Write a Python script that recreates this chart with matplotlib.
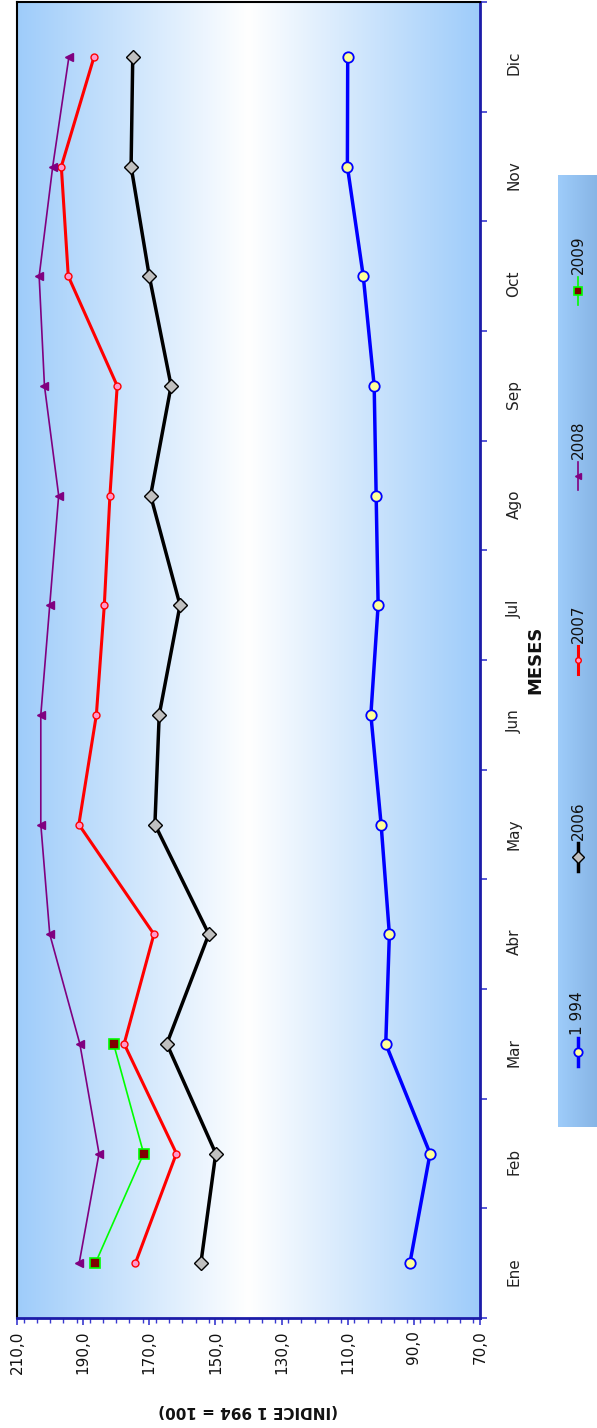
import numpy as np
import matplotlib
matplotlib.use("Agg")
import matplotlib.pyplot as plt
from matplotlib.lines import Line2D
from matplotlib.ticker import MultipleLocator, FixedLocator, FuncFormatter

plt.rcParams['font.family'] = ['DejaVu Sans']

# ---------------- data ----------------
months = ["Ene", "Feb", "Mar", "Abr", "May", "Jun", "Jul", "Ago", "Sep", "Oct", "Nov", "Dic"]
s1994 = [91.2, 85.1, 98.5, 97.4, 99.9, 103.0, 100.8, 101.4, 102.0, 105.3, 110.1, 110.0]
s2006 = [154.4, 149.9, 164.7, 152.0, 168.3, 167.0, 160.7, 169.6, 163.4, 170.0, 175.5, 175.0]
s2007 = [174.2, 161.8, 177.6, 168.6, 191.3, 186.0, 183.6, 181.9, 179.7, 194.5, 196.6, 186.7]
s2008 = [191.2, 185.2, 191.0, 200.1, 202.8, 202.8, 200.1, 197.4, 201.7, 203.3, 199.2, 194.3]
s2009 = [186.3, 171.7, 180.8]
series_names = ["1 994", "2006", "2007", "2008", "2009"]
value_ticks = [210, 190, 170, 150, 130, 110, 90, 70]

W, H = 597, 1428
fig = plt.figure(figsize=(W / 100, H / 100), dpi=100)
fig.patch.set_facecolor("white")

def fx(px):
    return px / W

def fy(py):
    return 1 - py / H

L, R, T, B = 17, 480, 2, 1318
ax = fig.add_axes([fx(L), fy(B), fx(R) - fx(L), fy(T) - fy(B)])

# gradient background
edge = np.array([0.62, 0.80, 0.98])
t = np.linspace(0, 1, 512)
d = np.abs(t - 0.5) * 2
grad = (1 - d)[:, None] * np.array([1, 1, 1]) + d[:, None] * edge
ax.imshow(grad[None, :, :], extent=[210, 70, -0.5, 11.5], aspect='auto', zorder=0,
          interpolation='bilinear')

styles = [
    dict(color='#0000FF', lw=2.5, marker='o', ms=7.5, mfc='#FFFF99', mec='#0000FF', mew=1.3),
    dict(color='#000000', lw=2.5, marker='D', ms=7.5, mfc='#C0C0C0', mec='#000000', mew=1.0),
    dict(color='#FF0000', lw=2.2, marker='o', ms=5, mfc='#FF99CC', mec='#FF0000', mew=1.0),
    dict(color='#800080', lw=1.2, marker='<', ms=6, mfc='#800080', mec='#800080', mew=1.0),
    dict(color='#00FF00', lw=1.2, marker='s', ms=6.5, mfc='#800000', mec='#00FF00', mew=1.2),
]
all_series = [s1994, s2006, s2007, s2008, s2009]

y = np.arange(len(months))
for vals, st in zip(all_series, styles):
    ax.plot(vals, y[:len(vals)], zorder=3, **st)

ax.set_xlim(210, 70)
ax.set_ylim(-0.5, 11.5)

# value axis (bottom)
ax.xaxis.set_major_locator(FixedLocator(value_ticks))
ax.xaxis.set_minor_locator(MultipleLocator(4))
ax.xaxis.set_major_formatter(FuncFormatter(lambda v, p: f"{v:.1f}".replace('.', ',')))
ax.tick_params(axis='x', which='major', direction='out', length=5, width=1.2, color='#3A3AD0',
               labelrotation=90, labelsize=11, pad=4, labelcolor='#111111')
ax.tick_params(axis='x', which='minor', direction='out', length=3.5, width=1.0, color='#3A3AD0')

# month axis (right)
ax.yaxis.tick_right()
ax.set_yticks(y)
ax.set_yticklabels(months)
ax.yaxis.set_minor_locator(FixedLocator(np.arange(-0.5, 12, 1.0)))
ax.tick_params(axis='y', which='major', length=0, pad=19, labelrotation=90, labelsize=11,
               labelcolor='#222222')
ax.tick_params(axis='y', which='minor', direction='out', length=5, width=1.2, color='#3A3AD0')
ax.tick_params(axis='y', which='both', left=False, labelleft=False)

for s in ('left', 'top'):
    ax.spines[s].set_color('black')
    ax.spines[s].set_linewidth(1.5)
for s in ('right', 'bottom'):
    ax.spines[s].set_color('#1C1CA8')
    ax.spines[s].set_linewidth(2.0)

fig.text(fx(248), fy(1410), "(INDICE 1 994 = 100)", rotation=180, ha='center', va='center',
         fontsize=11, fontweight='bold', color='#111111')
fig.text(fx(535), fy(660), "MESES", rotation=90, ha='center', va='center',
         fontsize=13, fontweight='bold', color='#111111')

# legend box
LL, LT, LB = 558, 175, 1127
lax = fig.add_axes([fx(LL), fy(LB), 1 - fx(LL), fy(LT) - fy(LB)])
lg_left = np.array([0.62, 0.80, 0.98])
lg_right = np.array([0.53, 0.71, 0.90])
tt = np.linspace(0, 1, 128)[:, None]
lgrad = (1 - tt) * lg_left + tt * lg_right
lax.imshow(lgrad[None, :, :], extent=[0, 1, 0, 1], aspect='auto', transform=lax.transAxes,
           zorder=0)
lax.set_xlim(0, 1)
lax.set_ylim(0, 1)
lax.axis('off')

marker_py = [1052, 857, 660, 476, 291]
xc = 578
for name, st, py in zip(series_names, styles, marker_py):
    ln = Line2D([fx(xc), fx(xc)], [fy(py + 14), fy(py - 14)], transform=fig.transFigure,
                color=st['color'], lw=st['lw'], zorder=5)
    fig.add_artist(ln)
    mk = Line2D([fx(xc)], [fy(py)], transform=fig.transFigure, linestyle='none',
                marker=st['marker'], ms=st['ms'] * 0.8, mfc=st['mfc'], mec=st['mec'],
                mew=st['mew'], zorder=6)
    fig.add_artist(mk)
    fig.text(fx(xc), fy(py - 17), name, rotation=90, ha='center', va='bottom',
             fontsize=11, color='#111111', zorder=7)

fig.savefig("out.png", dpi=100)
